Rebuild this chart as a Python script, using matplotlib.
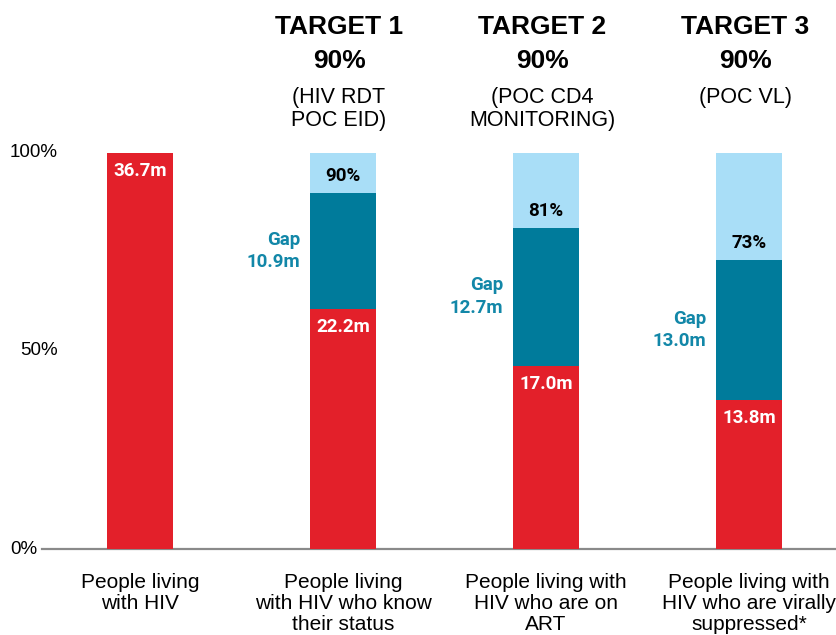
import matplotlib
matplotlib.use("Agg")
import matplotlib.pyplot as plt
import matplotlib.transforms as mtransforms
from matplotlib.font_manager import fontManager

names = {f.name for f in fontManager.ttflist}
narrow = "Liberation Sans Narrow" if "Liberation Sans Narrow" in names else "Liberation Sans"

categories = [
    "People living\nwith HIV",
    "People living\nwith HIV who know\ntheir status",
    "People living with\nHIV who are on\nART",
    "People living with\nHIV who are virally\nsuppressed*",
]
people_m = [36.7, 22.2, 17.0, 13.8]
reached_pct = [100.0, 60.5, 46.3, 37.6]
target_pct = [None, 90, 81, 73]
gap_m = [None, 10.9, 12.7, 13.0]
target_titles = [None, "TARGET 1", "TARGET 2", "TARGET 3"]
target_goal = [None, "90%", "90%", "90%"]
target_notes = [None, "(HIV RDT\nPOC EID)", "(POC CD4\nMONITORING)", "(POC VL)"]
ytick_vals = [0, 50, 100]

red = "#E3202A"
teal = "#007B9B"
light = "#A9DEF7"
gap_col = "#1287A8"

fig = plt.figure(figsize=(8.37, 6.35), dpi=100)
W, H = 837, 635
ax = fig.add_axes([42 / W, (H - 549) / H, 1 - 42 / W, (549 - 153) / H])
ax.set_xlim(-0.483, 3.433)
ax.set_ylim(0, 100)
for s in ax.spines.values():
    s.set_visible(False)
ax.set_xticks([])
ax.set_yticks([])
ax.axhline(0, color="#8a8a8a", lw=1.6, clip_on=False)

width = 0.325
x = list(range(len(categories)))
for i in x:
    ax.bar(i, reached_pct[i], width, color=red, zorder=2)
    if target_pct[i] is not None:
        ax.bar(i, target_pct[i] - reached_pct[i], width, bottom=reached_pct[i], color=teal, zorder=2)
        ax.bar(i, 100 - target_pct[i], width, bottom=target_pct[i], color=light, zorder=2)

# labels inside / beside the bars
off = mtransforms.offset_copy
for i in x:
    ax.text(i, reached_pct[i], f"{people_m[i]:.1f}m", ha="center", va="center",
            color="white", fontweight="bold", fontsize=13.5, family="Roboto",
            transform=off(ax.transData, fig=fig, y=-18, units="dots"))
    if target_pct[i] is None:
        continue
    ax.text(i, target_pct[i], f"{target_pct[i]}%", ha="center", va="center",
            color="black", fontweight="bold", fontsize=13.5, family="Roboto",
            transform=off(ax.transData, fig=fig, y=17, units="dots"))
    ax.text(i - width / 2, (target_pct[i] + reached_pct[i]) / 2, f"Gap\n{gap_m[i]:.1f}m",
            ha="right", va="center", multialignment="right", color=gap_col,
            fontweight="bold", fontsize=13.5, family="Roboto", linespacing=1.35,
            transform=off(ax.transData, fig=fig, x=-10, units="dots"))

# header texts above the bars
tx = mtransforms.blended_transform_factory(ax.transData, fig.transFigure)
for i in x:
    if target_titles[i] is None:
        continue
    ax.text(i - 0.02, 1 - 27 / H, target_titles[i], transform=tx, ha="center", va="center",
            fontsize=19, fontweight="bold", family=narrow)
    ax.text(i - 0.02, 1 - 61 / H, target_goal[i], transform=tx, ha="center", va="center",
            fontsize=19, fontweight="bold", family=narrow)
    ax.text(i - 0.02, 1 - 87 / H, target_notes[i], transform=tx, ha="center", va="top",
            fontsize=15.5, family=narrow, linespacing=1.15)

# y labels
ylab_tx = mtransforms.blended_transform_factory(fig.transFigure, ax.transData)
for v in ytick_vals:
    xr = 37 if v == 0 else 58
    ax.text(xr / W, v, f"{v}%", transform=ylab_tx, ha="right", va="center",
            fontsize=13.5, family=narrow)

# category labels
for i in x:
    ax.text(i, 1 - 573 / H, categories[i], transform=tx, ha="center", va="top",
            fontsize=15, family=narrow, linespacing=1.15)

fig.savefig("out.png", dpi=100)
